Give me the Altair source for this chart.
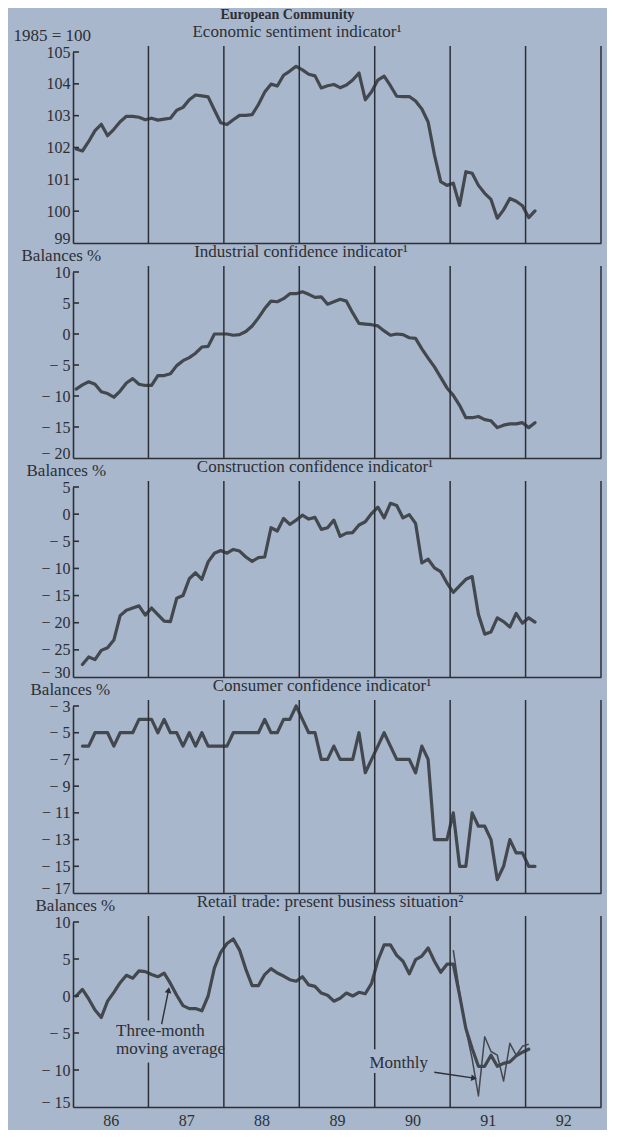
import altair as alt
import pandas as pd

# ---------------- data ----------------
YEARS = ["86", "87", "88", "89", "90", "91", "92"]
FIRST_YEAR = 1986

# Economic sentiment indicator, 1985 = 100, monthly from Jan 1986
econ_start = 0
econ = [101.95, 101.89, 102.19, 102.53, 102.73, 102.37, 102.57, 102.81, 102.98, 102.98,
        102.95, 102.87, 102.92, 102.86, 102.89, 102.92, 103.17, 103.26, 103.5, 103.65,
        103.62, 103.59, 103.18, 102.78, 102.72, 102.87, 103.01, 103.01, 103.03, 103.35,
        103.74, 103.99, 103.93, 104.27, 104.4, 104.55, 104.44, 104.3, 104.25, 103.87,
        103.94, 103.98, 103.88, 103.96, 104.12, 104.34, 103.5, 103.75, 104.12, 104.24,
        103.94, 103.61, 103.6, 103.6, 103.46, 103.21, 102.8, 101.77, 100.93, 100.81,
        100.88, 100.18, 101.24, 101.19, 100.81, 100.56, 100.37, 99.78, 100.04, 100.4,
        100.31, 100.17, 99.8, 100.01]

# Industrial confidence indicator, balances %, from Jan 1986
indus_start = 0
indus = [-8.9, -8.2, -7.7, -8.1, -9.3, -9.6, -10.2, -9.2, -7.9, -7.2,
         -8.1, -8.3, -8.3, -6.7, -6.7, -6.4, -5.1, -4.3, -3.8, -3.1,
         -2.1, -2.0, 0.0, 0.0, 0.0, -0.2, -0.1, 0.4, 1.3, 2.6,
         4.1, 5.3, 5.2, 5.7, 6.5, 6.5, 6.8, 6.4, 5.9, 6.0,
         4.8, 5.2, 5.6, 5.3, 3.4, 1.7, 1.6, 1.5, 1.3, 0.5,
         -0.2, 0.0, -0.1, -0.6, -0.7, -2.4, -3.9, -5.3, -7.0, -8.7,
         -9.9, -11.5, -13.5, -13.5, -13.3, -13.8, -14.0, -15.1, -14.7, -14.5,
         -14.5, -14.3, -15.1, -14.3]

# Construction confidence indicator, balances %, from Feb 1986
constr_start = 1
constr = [-27.7, -26.3, -26.8, -25.1, -24.6, -23.2, -18.7, -17.7, -17.3, -16.9,
          -18.6, -17.3, -18.5, -19.7, -19.8, -15.5, -15.0, -11.9, -10.8, -12.0,
          -8.8, -7.2, -6.7, -7.2, -6.5, -6.8, -7.9, -8.7, -8.0, -7.9,
          -2.5, -3.1, -0.8, -1.9, -1.1, -0.2, -0.9, -0.6, -2.8, -2.5,
          -1.1, -4.1, -3.5, -3.4, -2.0, -1.4, 0.1, 1.3, -0.7, 2.0,
          1.6, -0.7, -0.1, -1.7, -9.0, -8.3, -9.9, -10.6, -12.7, -14.4,
          -13.2, -12.0, -11.5, -18.5, -22.1, -21.7, -19.1, -19.8, -20.8, -18.3,
          -20.1, -19.1, -19.9]

# Consumer confidence indicator, balances %, from Feb 1986
consumer_start = 1
consumer = [-6, -6, -5, -5, -5, -6, -5, -5, -5, -4,
            -4, -4, -5, -4, -5, -5, -6, -5, -6, -5,
            -6, -6, -6, -6, -5, -5, -5, -5, -5, -4,
            -5, -5, -4, -4, -3, -4, -5, -5, -7, -7,
            -6, -7, -7, -7, -5, -8, -7, -6, -5, -6,
            -7, -7, -7, -8, -6, -7, -13, -13, -13, -11,
            -15, -15, -11, -12, -12, -13, -16, -15, -13, -14,
            -14, -15, -15]

# Retail trade: present business situation, balances %
retail_ma_start = 0          # three-month moving average
retail_ma = [0.0, 0.9, -0.4, -1.9, -2.9, -0.7, 0.5, 1.8, 2.8, 2.4,
             3.4, 3.3, 2.9, 2.6, 3.1, 1.7, 0.1, -1.3, -1.7, -1.7,
             -2.0, 0.0, 3.8, 5.9, 7.1, 7.7, 6.2, 3.6, 1.4, 1.4,
             2.9, 3.7, 3.1, 2.7, 2.2, 2.0, 2.6, 1.5, 1.3, 0.4,
             0.1, -0.7, -0.3, 0.4, 0.0, 0.5, 0.3, 1.7, 4.8, 6.9,
             6.9, 5.5, 4.7, 3.0, 4.9, 5.4, 6.5, 4.7, 3.2, 4.3,
             4.3, 0.1, -4.4, -7.1, -9.5, -9.5, -8.0, -9.5, -9.1, -8.9,
             -8.1, -7.6, -7.2]
retail_m_start = 60          # monthly
retail_monthly = [6.2, 0.5, -4.5, -8.5, -13.5, -5.5, -7.5, -8.0, -11.5, -6.4,
                  -8.0, -6.8, -6.5]

# annotations of the retail panel
ann_text = ["Three-month", "moving average", "Monthly"]
ann_x = [1986.57, 1986.57, 1989.93]
ann_y = [-4.7, -7.2, -9.1]
arrow_x = [1987.175, 1990.79]
arrow_x2 = [1987.267, 1991.317]
arrow_y = [-3.8, -10.3]
arrow_y2 = [0.8, -11.1]
arrow_angle = [11, 98]
gap_x = [1987.0, 1990.0]
gap_lo = [-9.0, -10.4]
gap_hi = [-3.3, -7.2]

# ---------------- style ----------------
BG = "#a8b7cc"
INK = "#2c2f35"
LINE = "#43474e"
FONT = "Liberation Serif"
WIDTH = 528
X0, X1 = FIRST_YEAR, FIRST_YEAR + len(YEARS)

xscale = alt.Scale(domain=[X0, X1], nice=False, zero=False)
bounds_df = pd.DataFrame({"b": [X0 + i + 1 for i in range(len(YEARS))]})
label_expr = "datum.value < 0 ? '\u2212 ' + format(-datum.value, 'd') : format(datum.value, 'd')"
year_expr = "[" + ",".join("'%s'" % y for y in YEARS) + "][floor(datum.value) - %d]" % FIRST_YEAR


def series_df(start, values):
    return pd.DataFrame({"x": [FIRST_YEAR + (start + i + 0.5) / 12 for i in range(len(values))],
                         "v": values})


def panel(title, title_dx, ytitle, ytitle_x, ymin, ymax, step, height, start, values,
          extra=None, bottom=False):
    yscale = alt.Scale(domain=[ymin, ymax], nice=False, zero=False)
    ticks = list(range(ymin, ymax + 1, step))
    yaxis = alt.Axis(values=ticks, title=ytitle, titleAngle=0, titleAlign="left",
                     titleBaseline="middle", titleX=ytitle_x, titleY=-17, titleFont=FONT,
                     titleFontSize=17, titleFontWeight="normal", titleColor=INK,
                     labelFont=FONT, labelFontSize=16, labelColor=INK, labelPadding=3,
                     labelBaseline={"condition": {"test": "datum.value == %d" % ymin,
                                                  "value": "alphabetic"},
                                    "value": "middle"},
                     labelExpr=label_expr, labelOverlap=False, ticks=False, grid=False,
                     domainColor=INK, domainWidth=1.6)
    if bottom:
        xaxis = alt.Axis(values=[X0 + i + 0.5 for i in range(len(YEARS))], labelExpr=year_expr,
                         labelFont=FONT, labelFontSize=16, labelColor=INK, labelPadding=5,
                         labelFlush=False, labelOverlap=False, ticks=False, grid=False,
                         title=None, domainColor=INK, domainWidth=1.6)
    else:
        xaxis = alt.Axis(labels=False, ticks=False, grid=False, title=None,
                         domainColor=INK, domainWidth=1.6)

    def X(field):
        return alt.X(field, scale=xscale, axis=xaxis)

    def Y(field):
        return alt.Y(field, scale=yscale, axis=yaxis)

    line = alt.Chart(series_df(start, values)).mark_line(
        color=LINE, strokeWidth=3.2, strokeJoin="round", strokeCap="round"
    ).encode(x=X("x:Q"), y=Y("v:Q"))

    verticals = alt.Chart(bounds_df).mark_rule(color=INK, strokeWidth=1.5).encode(
        x=X("b:Q"), y=alt.value(-6), y2=alt.value(height))

    tick_df = pd.DataFrame({"t": ticks[1:]})
    inner_ticks = alt.Chart(tick_df).mark_rule(color=INK, strokeWidth=1.6).encode(
        y=Y("t:Q"), x=alt.value(0), x2=alt.value(6))

    layers = [line, verticals, inner_ticks]
    if extra:
        layers += [e(X, Y) for e in extra]
    return alt.layer(*layers).properties(
        width=WIDTH, height=height,
        title=alt.TitleParams(title, font=FONT, fontSize=17, fontWeight="normal", color=INK,
                              anchor="middle", frame="group", offset=-15, dx=title_dx))


def retail_extras():
    def mask(X, Y):
        df = pd.DataFrame({"x1": [g - 0.03 for g in gap_x], "x2": [g + 0.03 for g in gap_x],
                           "lo": gap_lo, "hi": gap_hi})
        return alt.Chart(df).mark_rect(color=BG).encode(
            x=X("x1:Q"), x2="x2:Q", y=Y("lo:Q"), y2="hi:Q")

    def monthly(X, Y):
        return alt.Chart(series_df(retail_m_start, retail_monthly)).mark_line(
            color=LINE, strokeWidth=1.5, strokeJoin="round"
        ).encode(x=X("x:Q"), y=Y("v:Q"))

    def texts(X, Y):
        df = pd.DataFrame({"t": ann_text, "x": ann_x, "y": ann_y})
        return alt.Chart(df).mark_text(font=FONT, fontSize=17, color=INK, align="left",
                                       baseline="middle").encode(
            x=X("x:Q"), y=Y("y:Q"), text="t:N")

    def arrows(X, Y):
        df = pd.DataFrame({"x": arrow_x, "x2": arrow_x2, "y": arrow_y, "y2": arrow_y2})
        return alt.Chart(df).mark_rule(color=INK, strokeWidth=1.4).encode(
            x=X("x:Q"), x2="x2:Q", y=Y("y:Q"), y2="y2:Q")

    def heads(X, Y):
        df = pd.DataFrame({"x": arrow_x2, "y": arrow_y2, "a": arrow_angle})
        return alt.Chart(df).mark_point(shape="triangle-up", filled=True, color=INK,
                                        size=45, opacity=1).encode(
            x=X("x:Q"), y=Y("y:Q"), angle=alt.Angle("a:Q", scale=None))

    return [mask, monthly, texts, arrows, heads]


p1 = panel("Economic sentiment indicator\u00b9", -40, "1985 = 100", -60, 99, 105, 1, 191,
           econ_start, econ)
p2 = panel("Industrial confidence indicator\u00b9", -36, "Balances %", -52, -20, 10, 5, 186,
           indus_start, indus)
p3 = panel("Construction confidence indicator\u00b9", -22, "Balances %", -47, -30, 5, 5, 190,
           constr_start, constr)
p4 = panel("Consumer confidence indicator\u00b9", -15, "Balances %", -43, -17, -3, 2, 187,
           consumer_start, consumer)
p5 = panel("Retail trade: present business situation\u00b2", -7, "Balances %", -38, -15, 10, 5, 185,
           retail_ma_start, retail_ma, extra=retail_extras(), bottom=True)

chart = alt.vconcat(
    p1, p2, p3, p4, p5, spacing=29, bounds="flush",
    title=alt.TitleParams("European Community", font=FONT, fontSize=14, fontWeight="bold",
                          color=INK, anchor="middle", dx=-20, offset=1)
).properties(
    padding={"left": 5, "top": 0, "right": 5, "bottom": 2}
).configure(background=BG, font=FONT).configure_view(stroke=None)

chart.save("out.html", embed_options={"renderer": "svg", "actions": False})
